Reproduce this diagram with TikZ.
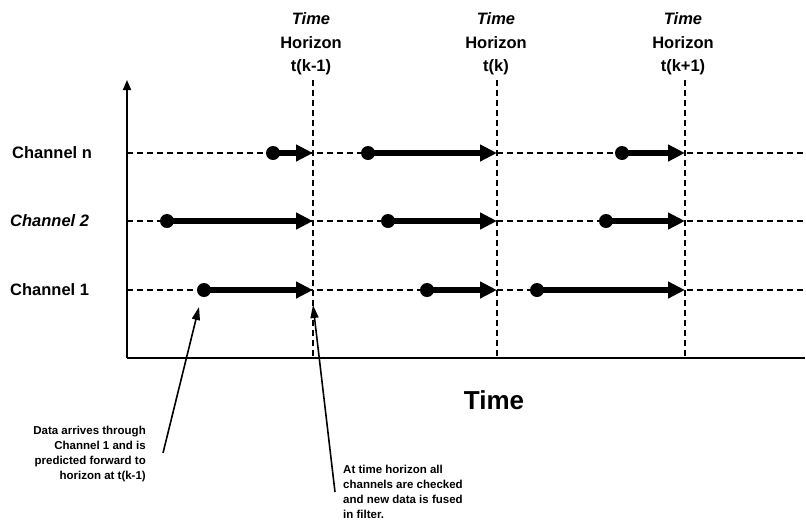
\documentclass[tikz,border=0pt]{standalone}
\usepackage{fontspec}
\setmainfont{Liberation Sans}
\usetikzlibrary{arrows.meta}
\begin{document}
\begin{tikzpicture}[x=1pt,y=-1pt,
  gridline/.style={line width=1.1pt,dash pattern=on 6pt off 4pt},
  axis/.style={line width=1.8pt},
  datum/.style={line width=5.5pt,-{Triangle[length=17pt,width=16pt]}},
  src/.style={circle,fill=black,inner sep=0pt,minimum size=14pt},
  chan/.style={font=\fontsize{16.5}{18}\selectfont\bfseries,anchor=west,inner sep=0pt},
  hz/.style={font=\fontsize{16.5}{23.5}\selectfont\bfseries,align=center,inner sep=0pt},
  note/.style={font=\fontsize{11.5}{15.2}\selectfont\bfseries,inner sep=0pt},
  ptr/.style={line width=1.6pt,-{Triangle[length=13pt,width=8pt]}}]

\useasboundingbox (0,0) rectangle (806,520);

% axes
\coordinate (O) at (127,358);
\coordinate (ytop) at (127,80);
\coordinate (xend) at (805,358);

% time horizons
\foreach \h/\x in {a/313,b/497,c/685} {
  \coordinate (h\h-top) at (\x,80);
  \coordinate (h\h-bot) at (\x,358);
}
\foreach \h in {a,b,c} \draw[gridline] (h\h-top) -- (h\h-bot);

% channel rows
\foreach \n/\y in {n/153,2/221,1/290} {
  \coordinate (row\n-l) at (127,\y);
  \coordinate (row\n-r) at (806,\y);
}
\foreach \n in {n,2,1} \draw[gridline] (row\n-l) -- (row\n-r);

\draw[axis,-{Triangle[length=10pt,width=8pt]}] (O) -- (ytop);
\draw[axis] (O) -- (xend);

% channel labels
\node[chan] (lbln) at (12,153) {Channel n};
\node[chan] (lbl2) at (10,221) {\itshape Channel 2};
\node[chan] (lbl1) at (10,290) {Channel 1};

% horizon labels
\node[hz] (ta) at (311,44) {\textit{Time}\\Horizon\\t(k-1)};
\node[hz] (tb) at (496,44) {\textit{Time}\\Horizon\\t(k)};
\node[hz] (tc) at (683,44) {\textit{Time}\\Horizon\\t(k+1)};

% data arrivals, predicted forward to the next horizon
\foreach \name/\x/\n/\h in {n1/273/n/a, n2/368/n/b, n3/622/n/c,
                            s1/167/2/a, s2/388/2/b, s3/606/2/c,
                            o1/204/1/a, o2/427/1/b, o3/537/1/c} {
  \node[src] (\name) at (\x,0 |- row\n-l) {};
  \draw[datum] (\name.center) -- (h\h-top |- row\n-l);
}

% time axis title
\node[font=\fontsize{26}{30}\selectfont\bfseries] (tl) at (494,400) {Time};

% annotations
\node[note,align=right,anchor=east] (na) at (146,454)
  {Data arrives through\\Channel 1 and is\\predicted forward to\\horizon at t(k-1)};
\node[note,align=left,anchor=west] (nb) at (343,492)
  {At time horizon all\\channels are checked\\and new data is fused\\in filter.};

\coordinate (pa-start) at (163,453);
\coordinate (pa-end) at (199,307);
\coordinate (pb-start) at (335,492);
\coordinate (pb-end) at (313,305);
\draw[ptr] (pa-start) -- (pa-end);
\draw[ptr] (pb-start) -- (pb-end);

\end{tikzpicture}
\end{document}
